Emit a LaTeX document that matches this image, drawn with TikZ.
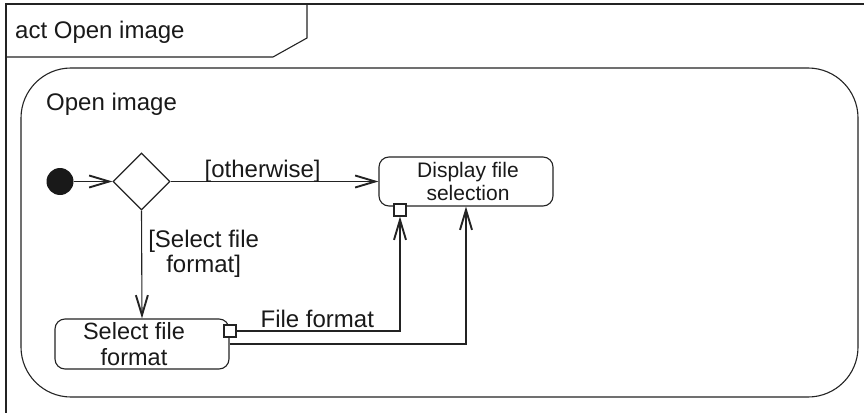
\documentclass[tikz,border=0pt]{standalone}
\usepackage{fontspec}
\setmainfont{Liberation Sans}
\usetikzlibrary{arrows.meta,shapes.geometric}

\tikzset{
  ink/.style={draw={rgb,255:red,35;green,35;blue,35}},
  frameline/.style={ink, line width=1.1pt},
  actionbox/.style={ink, line width=1.1pt, rounded corners=10pt, inner sep=0pt},
  actiontext/.style={inner sep=0pt, align=center, text={rgb,255:red,25;green,25;blue,25}},
  pinbox/.style={ink, fill=white, line width=1.1pt, minimum size=12pt, inner sep=0pt},
  flow/.style={ink, line width=1.1pt,
    -{Straight Barb[length=20pt,width=12pt,line width=1.9pt]}},
  lbl/.style={font=\fontsize{24}{25}\selectfont, inner sep=0pt, text={rgb,255:red,25;green,25;blue,25}}
}

\begin{document}
\begin{tikzpicture}[x=1pt,y=-1pt]
  \useasboundingbox (0,0) rectangle (864,412);
  \clip (0,0) rectangle (864,412);

  % diagram frame with its name tab
  \draw[frameline] (6,4) rectangle (900,440);
  \draw[frameline] (307,4) -- (307,38) -- (273,57) -- (6,57);
  \node[lbl, anchor=base west] (title) at (15,39) {act Open image};

  % activity region
  \node[frameline, draw, rounded corners=50pt, minimum width=837pt, minimum height=329pt,
        inner sep=0pt] (region) at (439.5,232.5) {};
  \node[lbl, anchor=base west] (regname) at (46,110) {Open image};

  % nodes
  \node[circle, fill={rgb,255:red,25;green,25;blue,25}, minimum size=27pt, inner sep=0pt] (init) at (60,181.5) {};
  \node[diamond, frameline, draw, minimum width=57pt, minimum height=57pt, inner sep=0pt] (dec) at (141.5,181.5) {};
  \node[actionbox, minimum width=174pt, minimum height=49pt] (disp) at (466,181.5) {};
  \node[actiontext, font=\fontsize{21}{22.5}\selectfont] (disptext) at (468,181.5) {Display file\\selection};
  \node[actionbox, minimum width=174pt, minimum height=50pt] (sel) at (142,344) {};
  \node[actiontext, font=\fontsize{23.5}{26}\selectfont] (seltext) at (134,344) {Select file\\format};

  % pins
  \node[pinbox] (pout) at (230,331) {};
  \node[pinbox] (pin) at (400,210) {};

  % control flows
  \draw[flow] (init) -- (dec.west);
  \draw[flow] (dec.east) -- node[lbl, pos=0.443, anchor=base, yshift=4pt] {[otherwise]} (disp.west);
  \draw[flow] (dec.south) -- node[lbl, pos=0.40, anchor=west, xshift=6pt, align=center] {[Select file\\format]} (sel.north);

  % object flow and control flow to the selection display
  \draw[flow] (pout.east) -| node[lbl, pos=0.247, anchor=base, yshift=4pt] {File format} (pin.south);
  \draw[flow] (sel.east) -| (disp.south);
\end{tikzpicture}
\end{document}
